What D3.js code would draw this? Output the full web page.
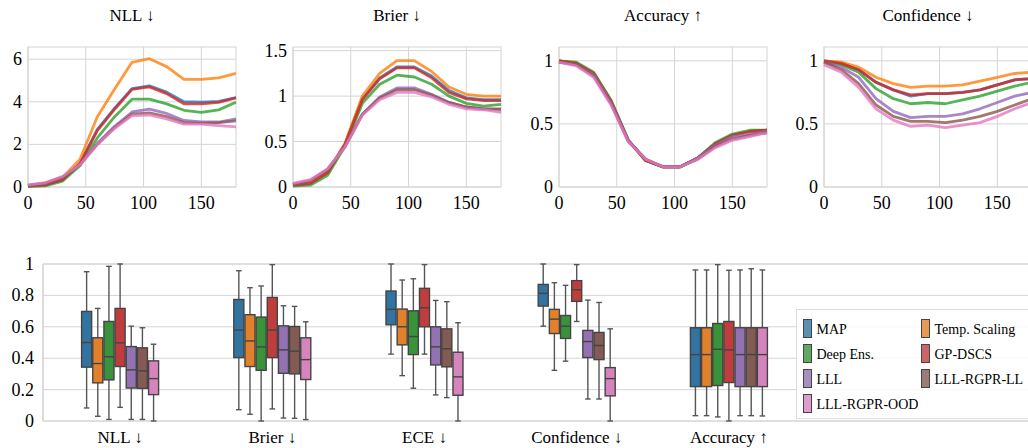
<!DOCTYPE html>
<html>
<head>
<meta charset="utf-8">
<script src="https://cdn.jsdelivr.net/npm/d3@7"></script>
<style>
  body { margin: 0; background: #fff; }
  svg text { font-family: "Liberation Serif", "Times New Roman", "DejaVu Serif", serif; }
</style>
</head>
<body>
<script>
// methods, same order everywhere
const methods = ["MAP", "Temp. Scaling", "Deep Ens.", "GP-DSCS", "LLL", "LLL-RGPR-LL", "LLL-RGPR-OOD"];
const lineColors = ["#1f77b4", "#ff7f0e", "#2ca02c", "#d62728", "#9467bd", "#8c564b", "#e377c2"];
const boxColors = ["#3274a1", "#e1812c", "#3a923a", "#c03d3e", "#9372b2", "#845b53", "#d684bd"];

// rotation angle (x of the top row)
const angles = [0, 15, 30, 45, 60, 75, 90, 105, 120, 135, 150, 165, 180];

const nll = [
  [0.05, 0.10, 0.35, 1.10, 2.70, 3.70, 4.62, 4.75, 4.45, 4.00, 3.98, 4.02, 4.20],
  [0.05, 0.15, 0.45, 1.30, 3.30, 4.60, 5.85, 6.02, 5.65, 5.05, 5.05, 5.12, 5.33],
  [0.02, 0.05, 0.28, 1.00, 2.30, 3.30, 4.12, 4.12, 3.90, 3.60, 3.50, 3.62, 3.98],
  [0.05, 0.10, 0.35, 1.10, 2.65, 3.65, 4.58, 4.70, 4.38, 3.90, 3.90, 3.97, 4.18],
  [0.08, 0.18, 0.45, 1.05, 2.05, 2.85, 3.52, 3.65, 3.45, 3.12, 3.05, 3.05, 3.20],
  [0.08, 0.18, 0.45, 1.05, 2.00, 2.80, 3.42, 3.48, 3.30, 3.02, 3.00, 3.02, 3.10],
  [0.10, 0.20, 0.50, 1.05, 2.00, 2.75, 3.35, 3.38, 3.20, 2.95, 2.95, 2.88, 2.82]
];
const brier = [
  [0.02, 0.04, 0.16, 0.47, 0.97, 1.20, 1.32, 1.32, 1.22, 1.06, 0.98, 0.96, 0.96],
  [0.02, 0.05, 0.17, 0.48, 1.00, 1.25, 1.39, 1.39, 1.27, 1.10, 1.02, 1.00, 1.00],
  [0.01, 0.02, 0.13, 0.45, 0.92, 1.13, 1.23, 1.21, 1.13, 1.00, 0.92, 0.89, 0.91],
  [0.02, 0.04, 0.16, 0.47, 0.96, 1.19, 1.31, 1.31, 1.20, 1.04, 0.97, 0.95, 0.95],
  [0.03, 0.07, 0.20, 0.45, 0.80, 0.99, 1.09, 1.09, 1.02, 0.93, 0.88, 0.86, 0.85],
  [0.03, 0.07, 0.19, 0.44, 0.80, 0.98, 1.07, 1.07, 1.01, 0.93, 0.88, 0.86, 0.86],
  [0.04, 0.08, 0.20, 0.44, 0.79, 0.96, 1.04, 1.04, 0.99, 0.91, 0.86, 0.85, 0.82]
];
const accuracy = [
  [1.00, 0.98, 0.90, 0.68, 0.37, 0.21, 0.16, 0.16, 0.23, 0.34, 0.41, 0.44, 0.45],
  [1.00, 0.98, 0.90, 0.68, 0.37, 0.21, 0.16, 0.16, 0.23, 0.34, 0.41, 0.44, 0.45],
  [1.00, 0.99, 0.91, 0.69, 0.37, 0.21, 0.16, 0.16, 0.23, 0.35, 0.42, 0.45, 0.45],
  [1.00, 0.98, 0.90, 0.68, 0.37, 0.21, 0.16, 0.16, 0.23, 0.34, 0.41, 0.44, 0.45],
  [0.99, 0.97, 0.89, 0.67, 0.37, 0.22, 0.16, 0.16, 0.23, 0.33, 0.40, 0.42, 0.44],
  [0.99, 0.97, 0.88, 0.66, 0.36, 0.22, 0.16, 0.16, 0.22, 0.32, 0.38, 0.41, 0.43],
  [0.99, 0.96, 0.87, 0.65, 0.36, 0.22, 0.16, 0.16, 0.22, 0.31, 0.37, 0.40, 0.43]
];
const confidence = [
  [1.00, 0.98, 0.93, 0.83, 0.77, 0.72, 0.74, 0.74, 0.75, 0.77, 0.81, 0.85, 0.86],
  [1.00, 0.99, 0.95, 0.87, 0.82, 0.79, 0.80, 0.80, 0.81, 0.84, 0.87, 0.90, 0.91],
  [0.99, 0.97, 0.91, 0.78, 0.70, 0.66, 0.67, 0.66, 0.69, 0.72, 0.76, 0.80, 0.83],
  [1.00, 0.98, 0.93, 0.83, 0.77, 0.73, 0.74, 0.74, 0.75, 0.77, 0.81, 0.85, 0.86],
  [0.99, 0.95, 0.87, 0.70, 0.60, 0.55, 0.56, 0.56, 0.58, 0.62, 0.67, 0.72, 0.75],
  [0.99, 0.93, 0.82, 0.65, 0.56, 0.52, 0.52, 0.51, 0.53, 0.56, 0.60, 0.65, 0.70],
  [0.97, 0.91, 0.79, 0.62, 0.53, 0.48, 0.49, 0.47, 0.49, 0.51, 0.56, 0.62, 0.67]
];

const topTitles = ["NLL \u2193", "Brier \u2193", "Accuracy \u2191", "Confidence \u2193"];
const topTicksY = [[0, 2, 4, 6], [0, 0.5, 1, 1.5], [0, 0.5, 1], [0, 0.5, 1]];
const topMaxY = [6.57, 1.54, 1.11, 1.11];
const topTicksX = [0, 50, 100, 150];

// bottom: box stats [whisker low, q1, median, q3, whisker high] per method
const boxCats = ["NLL \u2193", "Brier \u2193", "ECE \u2193", "Confidence \u2193", "Accuracy \u2191"];
const boxNLL = [
  [0.083, 0.343, 0.500, 0.698, 0.951],
  [0.030, 0.243, 0.366, 0.530, 0.717],
  [0.010, 0.262, 0.409, 0.634, 0.985],
  [0.087, 0.347, 0.498, 0.717, 1.000],
  [0.010, 0.210, 0.326, 0.474, 0.604],
  [0.010, 0.208, 0.319, 0.466, 0.594],
  [0.000, 0.168, 0.270, 0.383, 0.489]
];
const boxBrier = [
  [0.072, 0.404, 0.579, 0.774, 0.957],
  [0.043, 0.347, 0.510, 0.677, 0.849],
  [0.000, 0.323, 0.472, 0.662, 0.860],
  [0.077, 0.404, 0.579, 0.787, 0.996],
  [0.019, 0.304, 0.453, 0.606, 0.734],
  [0.017, 0.300, 0.445, 0.602, 0.730],
  [0.009, 0.264, 0.391, 0.530, 0.632]
];
const boxECE = [
  [0.426, 0.613, 0.711, 0.828, 1.000],
  [0.289, 0.485, 0.600, 0.713, 0.898],
  [0.209, 0.423, 0.538, 0.702, 0.906],
  [0.426, 0.600, 0.721, 0.845, 0.996],
  [0.166, 0.357, 0.472, 0.600, 0.768],
  [0.149, 0.345, 0.460, 0.587, 0.760],
  [0.000, 0.164, 0.281, 0.438, 0.626]
];
const boxConfidence = [
  [0.604, 0.732, 0.813, 0.870, 1.000],
  [0.323, 0.557, 0.649, 0.711, 0.881],
  [0.381, 0.526, 0.604, 0.672, 0.864],
  [0.634, 0.762, 0.836, 0.894, 0.996],
  [0.140, 0.404, 0.506, 0.577, 0.770],
  [0.140, 0.391, 0.481, 0.564, 0.755],
  [0.000, 0.160, 0.270, 0.340, 0.587]
];
const boxAccuracy = [
  [0.034, 0.219, 0.423, 0.594, 0.962],
  [0.034, 0.219, 0.423, 0.594, 0.962],
  [0.026, 0.226, 0.457, 0.621, 0.996],
  [0.000, 0.245, 0.453, 0.634, 0.960],
  [0.034, 0.219, 0.423, 0.594, 0.962],
  [0.034, 0.219, 0.423, 0.594, 0.970],
  [0.032, 0.219, 0.423, 0.594, 0.962]
];
const boxData = [boxNLL, boxBrier, boxECE, boxConfidence, boxAccuracy];
const boxTicksY = [0, 0.2, 0.4, 0.6, 0.8, 1];

const W = 1028, H = 448;
const gridColor = "#d4d4d4";
const serif = "'Liberation Serif', 'Times New Roman', 'DejaVu Serif', serif";

const svg = d3.select("body").append("svg")
  .attr("width", W)
  .attr("height", H)
  .attr("font-family", serif);

// ---- top row of line plots
const topSeries = [nll, brier, accuracy, confidence];
const panelLeft = [28, 293, 559, 824];
const panelW = 208;
const panelTop = 47, panelBottom = 187;

const line = d3.line();

for (let p = 0; p < 4; p++) {
  const x = d3.scaleLinear().domain([0, 180]).range([panelLeft[p], panelLeft[p] + panelW]);
  const y = d3.scaleLinear().domain([0, topMaxY[p]]).range([panelBottom, panelTop]);
  const g = svg.append("g");

  // grid
  g.selectAll(".gx").data(topTicksX).join("line")
    .attr("x1", d => x(d)).attr("x2", d => x(d))
    .attr("y1", panelTop).attr("y2", panelBottom)
    .attr("stroke", gridColor).attr("stroke-width", 1);
  g.selectAll(".gy").data(topTicksY[p]).join("line")
    .attr("x1", panelLeft[p]).attr("x2", panelLeft[p] + panelW)
    .attr("y1", d => y(d)).attr("y2", d => y(d))
    .attr("stroke", gridColor).attr("stroke-width", 1);
  g.append("rect")
    .attr("x", panelLeft[p]).attr("y", panelTop)
    .attr("width", panelW).attr("height", panelBottom - panelTop)
    .attr("fill", "none").attr("stroke", gridColor).attr("stroke-width", 1);

  // lines
  topSeries[p].forEach((vals, m) => {
    g.append("path")
      .datum(vals.map((v, i) => [x(angles[i]), y(v)]))
      .attr("d", line)
      .attr("fill", "none")
      .attr("stroke", lineColors[m])
      .attr("stroke-opacity", 0.8)
      .attr("stroke-width", 2.8)
      .attr("stroke-linejoin", "round");
  });

  // tick labels
  g.selectAll(".tx").data(topTicksX).join("text")
    .attr("x", d => x(d)).attr("y", 209)
    .attr("text-anchor", "middle")
    .attr("font-family", serif)
    .attr("font-size", 18)
    .text(d => d);
  g.selectAll(".ty").data(topTicksY[p]).join("text")
    .attr("x", panelLeft[p] - 6).attr("y", d => y(d) + 6)
    .attr("text-anchor", "end")
    .attr("font-family", serif)
    .attr("font-size", 18)
    .text(d => d);

  g.append("text")
    .attr("x", panelLeft[p] + panelW / 2).attr("y", 21)
    .attr("text-anchor", "middle")
    .attr("font-family", serif)
    .attr("font-size", 17)
    .text(topTitles[p]);
}

// ---- bottom box plot
const bx = d3.scaleBand().domain(boxCats).range([44, 805]);
const inner = d3.scaleBand().domain(methods).range([-38.5, 38.5]).paddingInner(0.1);
const by = d3.scaleLinear().domain([0, 1]).range([421, 264]);

const bg = svg.append("g");
bg.selectAll(".grid").data(boxTicksY).join("line")
  .attr("x1", 43).attr("x2", W)
  .attr("y1", d => by(d)).attr("y2", d => by(d))
  .attr("stroke", gridColor)
  .attr("stroke-width", d => (d === 0 || d === 1) ? 1.6 : 1);
bg.append("line")
  .attr("x1", 43).attr("x2", 43)
  .attr("y1", by(1)).attr("y2", by(0))
  .attr("stroke", gridColor).attr("stroke-width", 1.6);

bg.selectAll(".ylab").data(boxTicksY).join("text")
  .attr("x", 34).attr("y", d => by(d) + 6)
  .attr("text-anchor", "end")
  .attr("font-family", serif)
  .attr("font-size", 18)
  .text(d => d);

bg.selectAll(".xlab").data(boxCats).join("text")
  .attr("x", d => bx(d) + bx.bandwidth() / 2)
  .attr("y", 443)
  .attr("text-anchor", "middle")
  .attr("font-family", serif)
  .attr("font-size", 17)
  .text(d => d);

boxCats.forEach((cat, c) => {
  const cx = bx(cat) + bx.bandwidth() / 2;
  boxData[c].forEach((s, m) => {
    const x0 = cx + inner(methods[m]);
    const bw = inner.bandwidth();
    const mid = x0 + bw / 2;
    const bgm = bg.append("g");
    const wStroke = "#555";
    // whiskers
    bgm.append("line")
      .attr("x1", mid).attr("x2", mid)
      .attr("y1", by(s[4])).attr("y2", by(s[3]))
      .attr("stroke", wStroke).attr("stroke-width", 1.4);
    bgm.append("line")
      .attr("x1", mid).attr("x2", mid)
      .attr("y1", by(s[1])).attr("y2", by(s[0]))
      .attr("stroke", wStroke).attr("stroke-width", 1.4);
    [s[0], s[4]].forEach(v => {
      bgm.append("line")
        .attr("x1", mid - 2.8).attr("x2", mid + 2.8)
        .attr("y1", by(v)).attr("y2", by(v))
        .attr("stroke", wStroke).attr("stroke-width", 1.4);
    });
    // box
    bgm.append("rect")
      .attr("x", x0).attr("y", by(s[3]))
      .attr("width", bw).attr("height", by(s[1]) - by(s[3]))
      .attr("fill", boxColors[m])
      .attr("stroke", "#444").attr("stroke-width", 1.4);
    bgm.append("line")
      .attr("x1", x0).attr("x2", x0 + bw)
      .attr("y1", by(s[2])).attr("y2", by(s[2]))
      .attr("stroke", "#444").attr("stroke-width", 1.4);
  });
});

// legend
const lg = svg.append("g");
lg.append("rect")
  .attr("x", 796.5).attr("y", 309.5)
  .attr("width", 240).attr("height", 109)
  .attr("fill", "#fff").attr("fill-opacity", 0.85)
  .attr("stroke", "#dcdcdc").attr("stroke-width", 1);
methods.forEach((name, m) => {
  const col = m % 2, row = Math.floor(m / 2);
  const lx = col === 0 ? 803.5 : 921.5;
  const ly = 319.5 + row * 25;
  lg.append("rect")
    .attr("x", lx).attr("y", ly)
    .attr("width", 8).attr("height", 18)
    .attr("fill", boxColors[m]).attr("fill-opacity", 0.8)
    .attr("stroke", "#444").attr("stroke-width", 1);
  lg.append("text")
    .attr("x", lx + 13).attr("y", ly + 14)
    .attr("font-family", serif)
    .attr("font-size", 14)
    .text(name);
});
</script>
</body>
</html>
